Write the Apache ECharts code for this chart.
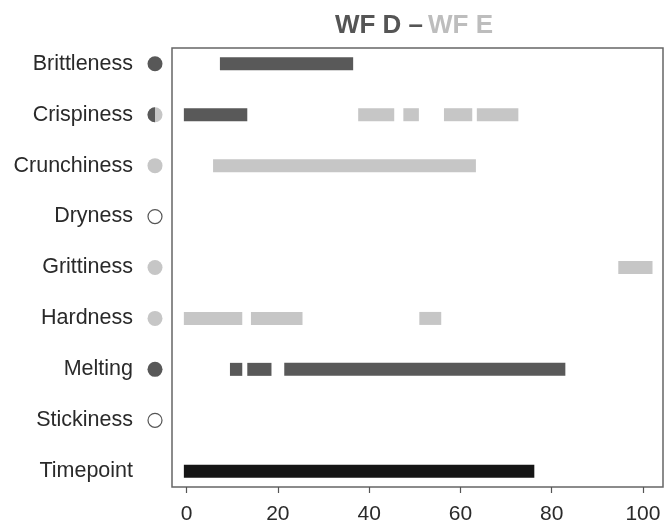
<!DOCTYPE html>
<html>
<head>
<meta charset="utf-8">
<script src="https://cdn.jsdelivr.net/npm/echarts@6/dist/echarts.min.js"></script>
<style>
  html, body { margin: 0; padding: 0; background: #fff; }
  #chart { width: 665px; height: 525px; }
</style>
</head>
<body>
<div id="chart"></div>
<script>
// attributes, top to bottom
const categories = ['Brittleness', 'Crispiness', 'Crunchiness', 'Dryness', 'Grittiness',
                    'Hardness', 'Melting', 'Stickiness', 'Timepoint'];
// which product the attribute is dominant for: D, E, both (DE), none
const markerKind = ['D', 'DE', 'E', 'none', 'E', 'E', 'D', 'none', ''];
// [attribute index, start, end]
const wfD = [[0, 7.3, 36.5], [1, -0.6, 13.3], [6, 9.5, 12.2], [6, 13.3, 18.6], [6, 21.4, 83.0]];
const wfE = [[1, 37.6, 45.5], [1, 47.5, 50.9], [1, 56.4, 62.6], [1, 63.6, 72.7],
             [2, 5.8, 63.4], [4, 94.6, 102.1],
             [5, -0.6, 12.2], [5, 14.1, 25.4], [5, 51.0, 55.8]];
const timepoint = [[8, -0.6, 76.2]];
const xTicks = [0, 20, 40, 60, 80, 100];

const X_MIN = -3.2, X_MAX = 104.4;
const DARK = '#585858', LIGHT = '#c6c6c6';

let chart = echarts.init(document.getElementById('chart'));

function segData(arr) {
    return arr.map(function (d) { return [d[1], d[2], d[0] + 1]; });
}

function barItem(color) {
    return function (params, api) {
        let s = api.coord([api.value(0), api.value(2)]);
        let e = api.coord([api.value(1), api.value(2)]);
        let h = 13;
        return {
            type: 'rect',
            shape: { x: s[0], y: s[1] - h / 2, width: e[0] - s[0], height: h },
            style: { fill: color }
        };
    };
}

function markerItem(params, api) {
    let kind = markerKind[params.dataIndex];
    let p = api.coord([X_MIN, api.value(0)]);
    let cx = p[0] - 17, cy = p[1], r = 7.5;
    if (kind === 'D') {
        return { type: 'circle', shape: { cx: cx, cy: cy, r: r }, style: { fill: DARK } };
    } else if (kind === 'E') {
        return { type: 'circle', shape: { cx: cx, cy: cy, r: r }, style: { fill: LIGHT } };
    } else if (kind === 'DE') {
        return {
            type: 'group',
            children: [
                { type: 'circle', shape: { cx: cx, cy: cy, r: r }, style: { fill: LIGHT } },
                { type: 'sector', shape: { cx: cx, cy: cy, r: r, r0: 0,
                    startAngle: Math.PI / 2, endAngle: Math.PI * 3 / 2, clockwise: true },
                  style: { fill: DARK } }
            ]
        };
    } else if (kind === 'none') {
        return { type: 'circle', shape: { cx: cx, cy: cy, r: r - 0.5 },
                 style: { fill: '#fff', stroke: '#555', lineWidth: 1.2 } };
    }
    return null;
}

let option = {
    animation: false,
    title: {
        text: '{d|WF D –} {e|WF E}',
        left: 409,
        top: 8,
        textAlign: 'center',
        textStyle: {
            rich: {
                d: { fontSize: 26, fontWeight: 'bold', color: '#555', fontFamily: 'Liberation Sans' },
                e: { fontSize: 26, fontWeight: 'bold', color: '#bdbdbd', fontFamily: 'Liberation Sans' }
            }
        }
    },
    grid: {
        left: 172, right: 2, top: 48, bottom: 36,
        show: true, borderColor: '#666', borderWidth: 1.5
    },
    xAxis: {
        type: 'value',
        min: X_MIN,
        max: X_MAX,
        axisLine: { show: false },
        splitLine: { show: false },
        axisTick: { show: true, length: 6, customValues: xTicks, lineStyle: { color: '#555', width: 1.2 } },
        axisLabel: {
            customValues: xTicks,
            fontSize: 21,
            color: '#2a2a2a',
            margin: 17,
            fontFamily: 'Liberation Sans'
        }
    },
    yAxis: {
        type: 'value',
        inverse: true,
        min: 0.69,
        max: 9.31,
        axisLine: { show: false },
        axisTick: { show: false },
        splitLine: { show: false },
        axisLabel: {
            customValues: [1, 2, 3, 4, 5, 6, 7, 8, 9],
            formatter: function (v) { return categories[Math.round(v) - 1]; },
            fontSize: 21.5,
            color: '#2a2a2a',
            margin: 39,
            fontFamily: 'Liberation Sans'
        }
    },
    series: [
        { type: 'custom', name: 'WF D', renderItem: barItem('#595959'),
          encode: { x: [0, 1], y: 2 }, data: segData(wfD) },
        { type: 'custom', name: 'WF E', renderItem: barItem('#c6c6c6'),
          encode: { x: [0, 1], y: 2 }, data: segData(wfE) },
        { type: 'custom', name: 'Timepoint', renderItem: barItem('#151515'),
          encode: { x: [0, 1], y: 2 }, data: segData(timepoint) },
        { type: 'custom', name: 'markers', renderItem: markerItem, clip: false,
          encode: { y: 0 }, data: categories.map(function (c, i) { return [i + 1]; }) }
    ]
};

chart.setOption(option, true);
window.onresize = () => {
    chart.resize();
};
</script>
</body>
</html>
